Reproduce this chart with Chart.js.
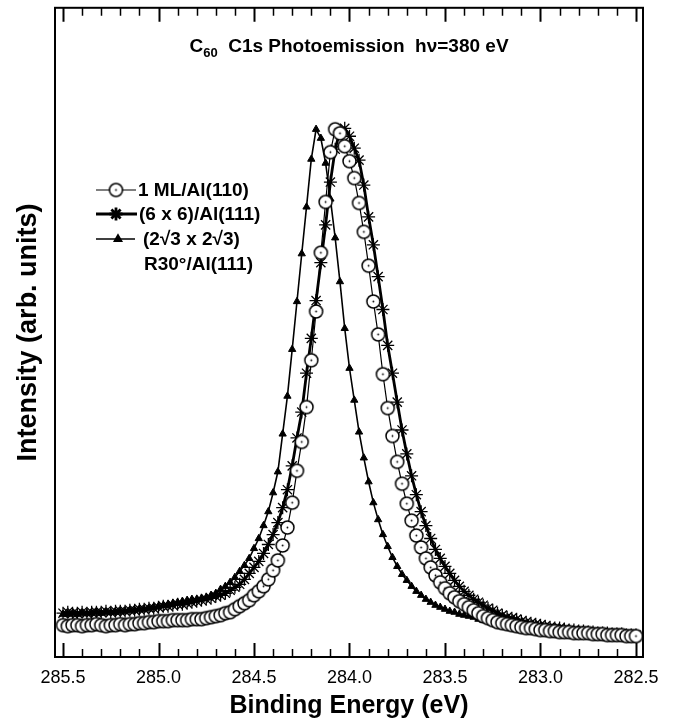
<!DOCTYPE html>
<html>
<head>
<meta charset="utf-8">
<title>C60 C1s Photoemission</title>
<script src="https://cdn.jsdelivr.net/npm/chart.js@4.4.1/dist/chart.umd.min.js"></script>
<style>
  html, body { margin: 0; padding: 0; background: #fff; }
  #c1sChart { display: block; }
</style>
</head>
<body>
<canvas id="c1sChart" width="673" height="723"></canvas>
<script>
// binding energy grid (eV), same for all three spectra
const energy = [
  285.5, 285.475, 285.45, 285.425, 285.4, 285.375, 285.35, 285.325, 285.3, 285.275,
  285.25, 285.225, 285.2, 285.175, 285.15, 285.125, 285.1, 285.075, 285.05, 285.025,
  285.0, 284.975, 284.95, 284.925, 284.9, 284.875, 284.85, 284.825, 284.8, 284.775,
  284.75, 284.725, 284.7, 284.675, 284.65, 284.625, 284.6, 284.575, 284.55, 284.525,
  284.5, 284.475, 284.45, 284.425, 284.4, 284.375, 284.35, 284.325, 284.3, 284.275,
  284.25, 284.225, 284.2, 284.175, 284.15, 284.125, 284.1, 284.075, 284.05, 284.025,
  284.0, 283.975, 283.95, 283.925, 283.9, 283.875, 283.85, 283.825, 283.8, 283.775,
  283.75, 283.725, 283.7, 283.675, 283.65, 283.625, 283.6, 283.575, 283.55, 283.525,
  283.5, 283.475, 283.45, 283.425, 283.4, 283.375, 283.35, 283.325, 283.3, 283.275,
  283.25, 283.225, 283.2, 283.175, 283.15, 283.125, 283.1, 283.075, 283.05, 283.025,
  283.0, 282.975, 282.95, 282.925, 282.9, 282.875, 282.85, 282.825, 282.8, 282.775,
  282.75, 282.725, 282.7, 282.675, 282.65, 282.625, 282.6, 282.575, 282.55, 282.525,
  282.5
];

// intensities (arb. units)
const ml110 = [
  32, 31, 32, 32, 31, 32, 32, 33, 32, 31,
  32, 32, 33, 32, 33, 33, 34, 34, 35, 35,
  36, 36, 36, 37, 37, 37, 37, 38, 38, 38,
  39, 40, 41, 42, 44, 45, 48, 51, 54, 57,
  62, 66, 71, 78, 87, 97, 112, 130, 155, 187,
  216, 251, 298, 347, 406, 457, 507, 530, 526, 513,
  498, 481, 456, 427, 393, 357, 324, 284, 250, 222,
  196, 174, 154, 137, 122, 110, 99, 90, 82, 75,
  69, 64, 60, 56, 53, 50, 47, 44, 41, 39,
  37, 35, 34, 33, 32, 31, 30, 29, 29, 28,
  27, 27, 26, 26, 25, 25, 25, 24, 24, 24,
  24, 23, 23, 23, 22, 22, 22, 22, 21, 21,
  21
];

const sixBySix = [
  44, 45, 44, 44, 45, 44, 45, 45, 45, 46,
  45, 46, 46, 46, 47, 47, 48, 48, 49, 49,
  50, 51, 51, 52, 53, 53, 54, 55, 56, 57,
  58, 59, 61, 62, 64, 67, 70, 73, 78, 84,
  90, 96, 104, 113, 123, 135, 150, 168, 192, 220,
  246, 285, 320, 358, 396, 434, 477, 510, 528, 531,
  523, 511, 499, 474, 442, 414, 382, 349, 313, 285,
  256, 228, 204, 182, 163, 146, 132, 119, 108, 99,
  91, 84, 77, 71, 66, 62, 58, 55, 52, 49,
  47, 44, 42, 40, 39, 38, 36, 35, 34, 33,
  32, 31, 30, 29, 29, 28, 27, 27, 26, 26,
  25, 25, 24, 24, 24, 23, 23, 23, 22, 22,
  22
];

const r30 = [
  43, 43, 44, 43, 44, 44, 44, 45, 44, 45,
  45, 45, 46, 46, 47, 47, 48, 48, 49, 50,
  51, 52, 53, 54, 55, 56, 57, 58, 58, 59,
  60, 62, 64, 68, 71, 75, 80, 86, 92, 99,
  109, 119, 132, 146, 165, 186, 224, 262, 309, 357,
  405, 452, 500, 530, 521, 496, 460, 421, 377, 330,
  290, 258, 226, 200, 176, 155, 138, 123, 111, 100,
  91, 83, 77, 71, 66, 62, 58, 55, 52, 50,
  48, 46, 45, 43, 42, 41, 40, 38, 37, 36,
  35, 34, 33, 32, 31, 30, 30, 29, 29, 28,
  28, 27, 27, 26, 26, 26, 25, 25, 25, 24,
  24, 24, 24, 23, 23, 23, 23, 22, 22, 22,
  22
];

const majorTicks = [285.5, 285.0, 284.5, 284.0, 283.5, 283.0, 282.5];
const legendLabels = ['1 ML/Al(110)', '(6 x 6)/Al(111)', '(2\u221A3 x 2\u221A3)', 'R30\u00B0/Al(111)'];

const FONT = '"Liberation Sans", Arial, Helvetica, sans-serif';

// open circle with a dot in the middle
function makeCircle(r) {
  const c = document.createElement('canvas');
  const s = Math.ceil(r * 2 + 4);
  c.width = s; c.height = s;
  const g = c.getContext('2d');
  g.beginPath();
  g.arc(s / 2, s / 2, r, 0, Math.PI * 2);
  g.fillStyle = '#fff';
  g.fill();
  g.lineWidth = 1.5;
  g.strokeStyle = '#000';
  g.stroke();
  g.beginPath();
  g.arc(s / 2, s / 2, 0.9, 0, Math.PI * 2);
  g.fillStyle = '#000';
  g.fill();
  return c;
}
const circleImg = makeCircle(6.5);

function pts(ys) {
  return energy.map((e, i) => ({ x: e, y: ys[i] }));
}

// frame + inward ticks
const frame = {
  id: 'frame',
  afterDatasetsDraw(chart) {
    const { ctx, chartArea: a } = chart;
    const xs = chart.scales.x;
    ctx.save();
    ctx.strokeStyle = '#000';
    ctx.lineWidth = 2;
    ctx.strokeRect(a.left, a.top, a.right - a.left, a.bottom - a.top);
    for (let i = 0; i <= 30; i++) {
      const v = 282.5 + i * 0.1;
      const px = Math.round(xs.getPixelForValue(v)) + 0.5;
      const major = i % 5 === 0;
      const len = major ? 14 : 8;
      ctx.lineWidth = major ? 2 : 1.5;
      ctx.beginPath();
      ctx.moveTo(px, a.top);
      ctx.lineTo(px, a.top + len);
      ctx.moveTo(px, a.bottom);
      ctx.lineTo(px, a.bottom - len);
      ctx.stroke();
    }
    ctx.restore();
  }
};

// title with subscript
const titleText = {
  id: 'titleText',
  afterDraw(chart) {
    const { ctx, chartArea: a } = chart;
    ctx.save();
    ctx.fillStyle = '#000';
    ctx.textBaseline = 'alphabetic';
    const big = 'bold 19px ' + FONT;
    const small = 'bold 13px ' + FONT;
    const p1 = 'C', p2 = '60', p3 = '  C1s Photoemission  h\u03BD=380 eV';
    ctx.font = big;
    const w1 = ctx.measureText(p1).width, w3 = ctx.measureText(p3).width;
    ctx.font = small;
    const w2 = ctx.measureText(p2).width;
    let x = (a.left + a.right) / 2 - (w1 + w2 + w3) / 2;
    const y = 52;
    ctx.font = big; ctx.fillText(p1, x, y); x += w1;
    ctx.font = small; ctx.fillText(p2, x, y + 5); x += w2;
    ctx.font = big; ctx.fillText(p3, x, y);
    ctx.restore();
  }
};

// legend in the upper left of the plot
const legendBox = {
  id: 'legendBox',
  afterDraw(chart) {
    const { ctx } = chart;
    const ds = chart.data.datasets;
    const rows = [
      { y: 190, x0: 96, x1: 136, mx: 116, tx: 138, d: ds[0], text: legendLabels[0] },
      { y: 214, x0: 96, x1: 137, mx: 116, tx: 139, d: ds[1], text: legendLabels[1] },
      { y: 239, x0: 96, x1: 135, mx: 118, tx: 143, d: ds[2], text: legendLabels[2] }
    ];
    ctx.save();
    ctx.font = 'bold 19px ' + FONT;
    ctx.textBaseline = 'middle';
    ctx.fillStyle = '#000';
    rows.forEach(r => {
      ctx.strokeStyle = '#000';
      ctx.lineWidth = r.d.borderWidth;
      ctx.beginPath();
      ctx.moveTo(r.x0, r.y);
      ctx.lineTo(r.x1, r.y);
      ctx.stroke();
      if (r.d.pointStyle === circleImg) {
        ctx.drawImage(circleImg, r.mx - circleImg.width / 2, r.y - circleImg.height / 2);
      } else {
        ctx.fillStyle = '#000';
        Chart.helpers.drawPoint(ctx, {
          pointStyle: r.d.pointStyle,
          radius: r.d.pointRadius,
          borderWidth: r.d.pointBorderWidth,
          rotation: 0
        }, r.mx, r.y);
      }
      ctx.fillStyle = '#000';
      ctx.fillText(r.text, r.tx, r.y + 1);
    });
    ctx.fillText(legendLabels[3], 144, 265);
    ctx.restore();
  }
};

const ctx = document.getElementById('c1sChart').getContext('2d');
const chart = new Chart(ctx, {
  type: 'line',
  data: {
    datasets: [
      {
        label: legendLabels[0],
        data: pts(ml110),
        borderColor: '#000',
        borderWidth: 1.2,
        pointStyle: circleImg,
        pointRadius: 6.5,
        tension: 0
      },
      {
        label: legendLabels[1],
        data: pts(sixBySix),
        borderColor: '#000',
        borderWidth: 2.8,
        pointStyle: 'star',
        pointRadius: 6.5,
        pointBorderWidth: 1.3,
        pointBorderColor: '#000',
        tension: 0
      },
      {
        label: legendLabels[2] + ' ' + legendLabels[3],
        data: pts(r30),
        borderColor: '#000',
        borderWidth: 1.6,
        pointStyle: 'triangle',
        pointRadius: 4.2,
        pointBorderWidth: 1,
        pointBorderColor: '#000',
        pointBackgroundColor: '#000',
        tension: 0
      }
    ]
  },
  options: {
    responsive: false,
    animation: false,
    layout: { padding: { left: 0, right: 30, top: 5, bottom: 0 } },
    plugins: {
      legend: { display: false },
      tooltip: { enabled: false }
    },
    scales: {
      x: {
        type: 'linear',
        reverse: true,
        min: 282.4633,
        max: 285.5419,
        afterFit: s => { s.height = 66; },
        afterBuildTicks: s => { s.ticks = majorTicks.map(v => ({ value: v })); },
        grid: { display: false, drawTicks: false },
        border: { display: false },
        ticks: {
          padding: 10,
          color: '#000',
          autoSkip: false,
          maxRotation: 0,
          font: { family: FONT, size: 18 },
          callback: v => Number(v).toFixed(1)
        },
        title: {
          display: true,
          text: 'Binding Energy (eV)',
          color: '#000',
          font: { family: FONT, size: 25, weight: 'bold' },
          padding: { top: 0, bottom: 2 }
        }
      },
      y: {
        min: 0,
        max: 652,
        afterFit: s => { s.width = 55; },
        grid: { display: false, drawTicks: false },
        border: { display: false },
        ticks: { display: false },
        title: {
          display: true,
          text: 'Intensity (arb. units)',
          color: '#000',
          font: { family: FONT, size: 27, weight: 'bold' },
          padding: { top: 12, bottom: 0 }
        }
      }
    }
  },
  plugins: [frame, titleText, legendBox]
});
</script>
</body>
</html>
